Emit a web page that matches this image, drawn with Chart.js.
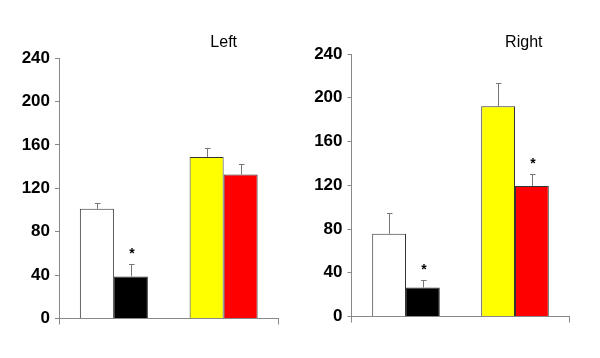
<!DOCTYPE html>
<html>
<head>
<meta charset="utf-8">
<script src="https://cdn.jsdelivr.net/npm/chart.js@4/dist/chart.umd.min.js"></script>
<style>
  html, body { margin: 0; padding: 0; background: #fff; }
  #wrap { position: relative; width: 600px; height: 358px; }
  .panel { position: absolute; top: 0; width: 300px; height: 358px; }
</style>
</head>
<body>
<div id="wrap">
  <div class="panel" style="left:0"><canvas id="cLeft"></canvas></div>
  <div class="panel" style="left:300px"><canvas id="cRight"></canvas></div>
</div>
<script>
// ---- data ----
const categories = ['Group A', 'Group B'];
const yTicks = [0, 40, 80, 120, 160, 200, 240];

const leftFirst  = [101, 148.7];   // white, yellow
const leftSecond = [38.7, 132.7];  // black, red
const leftFirstErr  = [5.3, 8.3];
const leftSecondErr = [11.4, 9.2];
const leftSig = [[false, false], [true, false]];

const rightFirst  = [75.6, 192.2];
const rightSecond = [26.5, 119.4];
const rightFirstErr  = [18.9, 21.1];
const rightSecondErr = [7.0, 10.7];
const rightSig = [[false, false], [true, true]];

const firstColors  = ['#ffffff', '#ffff00'];
const secondColors = ['#000000', '#ff0000'];

const FONT = '"Liberation Sans", Arial, Helvetica, sans-serif';

const errorBarPlugin = {
  id: 'errbars',
  afterDatasetsDraw(chart, args, opts) {
    const ctx = chart.ctx;
    const y = chart.scales.y;
    ctx.save();
    chart.data.datasets.forEach((ds, di) => {
      const meta = chart.getDatasetMeta(di);
      meta.data.forEach((bar, i) => {
        const v = ds.data[i];
        const e = ds.errors[i];
        const yTop = y.getPixelForValue(v);
        const yErr = y.getPixelForValue(v + e);
        const x = Math.round(bar.x) + 0.5;
        ctx.strokeStyle = '#777';
        ctx.lineWidth = 1;
        ctx.beginPath();
        ctx.moveTo(x, yTop);
        ctx.lineTo(x, Math.round(yErr) + 0.5);
        ctx.moveTo(x - 2.5, Math.round(yErr) + 0.5);
        ctx.lineTo(x + 3, Math.round(yErr) + 0.5);
        ctx.stroke();
        if (ds.sig[i]) {
          ctx.fillStyle = '#000';
          ctx.font = 'bold 14px ' + FONT;
          ctx.textAlign = 'center';
          ctx.textBaseline = 'alphabetic';
          ctx.fillText('*', bar.x + 1, yErr - 6);
        }
      });
    });
    ctx.restore();
  }
};

const panelTitlePlugin = {
  id: 'panelTitle',
  afterDraw(chart, args, opts) {
    const ctx = chart.ctx;
    ctx.save();
    ctx.fillStyle = '#000';
    ctx.font = '16px ' + FONT;
    ctx.textAlign = 'center';
    ctx.textBaseline = 'alphabetic';
    ctx.fillText(opts.text, opts.x, opts.y);
    ctx.restore();
  }
};

function makeChart(id, first, second, firstErr, secondErr, sig, cfg) {
  return new Chart(document.getElementById(id), {
    type: 'bar',
    data: {
      labels: categories,
      datasets: [
        { data: first, errors: firstErr, sig: sig[0], backgroundColor: firstColors,
          borderColor: '#333', borderWidth: 1, borderSkipped: 'bottom' },
        { data: second, errors: secondErr, sig: sig[1], backgroundColor: secondColors,
          borderColor: '#333', borderWidth: 1, borderSkipped: 'bottom' }
      ]
    },
    options: {
      responsive: false,
      animation: false,
      devicePixelRatio: 1,
      events: [],
      layout: { padding: { left: 0, top: cfg.top, right: cfg.right, bottom: cfg.bottom } },
      categoryPercentage: 0.62,
      barPercentage: 1.0,
      plugins: {
        legend: { display: false },
        tooltip: { enabled: false },
        title: { display: false },
        panelTitle: { text: cfg.title, x: cfg.titleX, y: 47 }
      },
      scales: {
        x: {
          grid: {
            display: true,
            drawOnChartArea: false,
            drawTicks: true,
            tickLength: 6,
            offset: true,
            tickColor: (c) => (c.index === 1 ? 'rgba(0,0,0,0)' : '#888'),
            color: '#888'
          },
          border: { display: true, color: '#888', width: 1 },
          ticks: { display: false }
        },
        y: {
          min: 0, max: 240,
          afterBuildTicks: (s) => { s.ticks = yTicks.map(v => ({ value: v })); },
          afterFit: (s) => { s.width = cfg.yWidth; },
          grid: { drawOnChartArea: false, drawTicks: true, tickLength: 4, color: '#888' },
          border: { display: true, color: '#888', width: 1 },
          ticks: {
            padding: 5,
            color: '#000',
            font: { family: FONT, size: 17, weight: 'bold' }
          }
        }
      }
    },
    plugins: [errorBarPlugin, panelTitlePlugin]
  });
}

function sizeCanvas(id) {
  const c = document.getElementById(id);
  c.width = 300; c.height = 358;
  c.style.width = '300px'; c.style.height = '358px';
}
sizeCanvas('cLeft'); sizeCanvas('cRight');

makeChart('cLeft', leftFirst, leftSecond, leftFirstErr, leftSecondErr, leftSig,
  { title: 'Left', titleX: 223.7, top: 58, right: 21.5, bottom: 33.5, yWidth: 59 });
makeChart('cRight', rightFirst, rightSecond, rightFirstErr, rightSecondErr, rightSig,
  { title: 'Right', titleX: 223.8, top: 54, right: 30.5, bottom: 35.5, yWidth: 51.5 });
</script>
</body>
</html>
